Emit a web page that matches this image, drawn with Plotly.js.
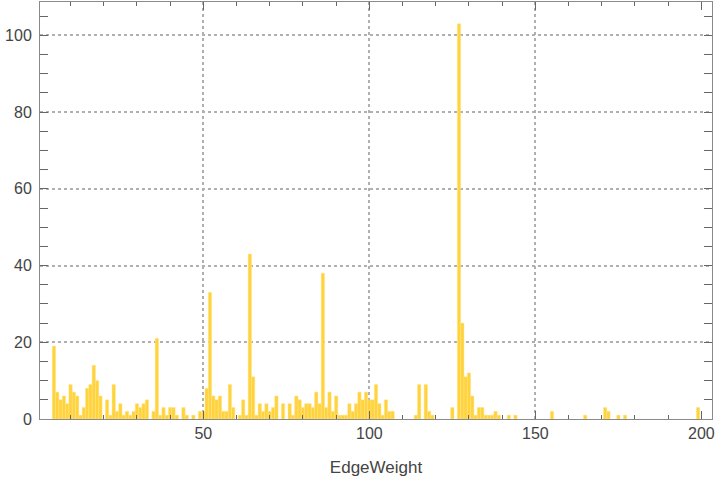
<!DOCTYPE html>
<html>
<head>
<meta charset="utf-8">
<script src="https://cdn.plot.ly/plotly-3.0.1.min.js"></script>
<style>
  html, body { margin: 0; padding: 0; background: #fff; }
  #chart { width: 720px; height: 484px; }
</style>
</head>
<body>
<div id="chart"></div>
<script>
// Histogram bins: EdgeWeight (bin centre, width 1) and count
const edgeWeight = [
  5, 6, 7, 8, 9, 10, 11, 12, 13, 14, 15, 16, 17, 18, 19, 21, 22, 23, 24, 25,
  26, 27, 28, 29, 30, 31, 32, 33, 35, 36, 37, 38, 39, 40, 41, 42, 44, 45, 47, 49,
  50, 51, 52, 53, 54, 55, 56, 57, 58, 59, 61, 62, 63, 64, 65, 66, 67, 68, 69, 70,
  71, 72, 74, 76, 77, 78, 79, 80, 81, 82, 83, 84, 85, 86, 87, 88, 89, 90, 91, 92,
  93, 94, 95, 96, 97, 98, 99, 100, 101, 102, 103, 104, 105, 106, 107, 114, 115, 117, 118, 119,
  125, 127, 128, 129, 130, 131, 132, 133, 134, 135, 136, 137, 138, 139, 142, 144, 155, 165, 171, 172,
  175, 177, 199
];
const counts = [
  19, 7, 5, 6, 4, 9, 7, 6, 1, 3, 8, 9, 14, 10, 6, 5, 1, 9, 2, 4,
  1, 2, 1, 2, 4, 3, 4, 5, 2, 21, 1, 3, 1, 3, 3, 1, 3, 1, 1, 2,
  2, 8, 33, 6, 5, 6, 2, 2, 9, 3, 1, 5, 1, 43, 11, 1, 4, 2, 4, 2,
  3, 6, 4, 4, 1, 6, 5, 3, 4, 4, 3, 7, 4, 38, 3, 7, 2, 6, 1, 1,
  1, 4, 2, 4, 7, 5, 7, 5, 5, 9, 4, 1, 5, 2, 2, 1, 9, 9, 2, 1,
  3, 103, 25, 11, 12, 6, 1, 3, 3, 1, 1, 1, 2, 1, 1, 1, 2, 1, 3, 2,
  1, 1, 3
];
const gridX = [50, 100, 150];
const xTitle = 'EdgeWeight';

const barColor = 'rgb(255, 211, 60)';
const frameColor = '#8a8a8a';
const tickColor = '#666666';
const textColor = '#444444';
const gridColor = '#b0b0b0';
const font = 'Liberation Sans, Arial, sans-serif';

const data = [
  {
    type: 'bar',
    x: edgeWeight,
    y: counts,
    width: 1,
    marker: { color: barColor, line: { color: 'rgba(255,228,140,0.9)', width: 0.5 } },
    hoverinfo: 'skip'
  },
  { type: 'scatter', x: [], y: [], xaxis: 'x2', yaxis: 'y', hoverinfo: 'skip', showlegend: false }
];

const layout = {
  width: 720,
  height: 484,
  margin: { l: 40, r: 8, t: 2, b: 65 },
  paper_bgcolor: '#ffffff',
  plot_bgcolor: '#ffffff',
  showlegend: false,
  bargap: 0,
  font: { family: font, size: 16, color: textColor },
  xaxis: {
    range: [0.8, 203.2],
    tickmode: 'linear', tick0: 0, dtick: 50,
    ticks: 'inside', ticklen: 8, tickwidth: 1, tickcolor: tickColor,
    minor: { tickmode: 'linear', tick0: 0, dtick: 10, ticks: 'inside', ticklen: 4, tickcolor: tickColor, showgrid: false },
    showgrid: false, zeroline: false,
    showline: true, linecolor: frameColor, linewidth: 1, mirror: 'allticks',
    tickfont: { family: font, size: 16, color: textColor },
    title: { text: xTitle, font: { family: font, size: 17, color: textColor }, standoff: 19 }
  },
  xaxis2: {
    overlaying: 'x', anchor: 'y', side: 'bottom',
    range: [0.8, 203.2],
    tickmode: 'array', tickvals: gridX,
    showticklabels: false, ticks: '',
    showgrid: true, gridcolor: gridColor, gridwidth: 2, griddash: 'dot',
    zeroline: false, showline: false
  },
  yaxis: {
    range: [0, 108.7],
    tickmode: 'linear', tick0: 0, dtick: 20,
    ticks: 'inside', ticklen: 8, tickwidth: 1, tickcolor: tickColor,
    minor: { tickmode: 'linear', tick0: 0, dtick: 5, ticks: 'inside', ticklen: 4, tickcolor: tickColor, showgrid: false },
    showgrid: true, gridcolor: gridColor, gridwidth: 2, griddash: 'dot',
    zeroline: false,
    showline: true, linecolor: frameColor, linewidth: 1, mirror: 'allticks',
    ticklabelstandoff: 4,
    tickfont: { family: font, size: 16, color: textColor }
  }
};

Plotly.newPlot('chart', data, layout, { staticPlot: true, displayModeBar: false });
</script>
</body>
</html>
